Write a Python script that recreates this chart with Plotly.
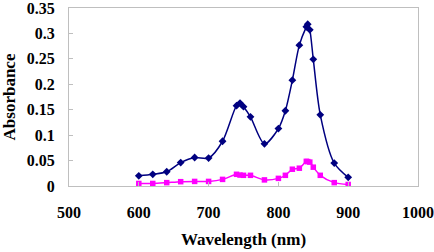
import plotly.graph_objects as go

# wavelength (nm) and absorbance readings
wavelength = [600, 620, 640, 660, 680, 700, 720, 740, 745, 750, 760, 780,
              800, 810, 820, 830, 840, 842, 845, 850, 860, 880, 900]
abs_blue = [0.020, 0.023, 0.028, 0.046, 0.056, 0.055, 0.088, 0.158, 0.163,
            0.156, 0.136, 0.083, 0.113, 0.148, 0.208, 0.277, 0.313, 0.318,
            0.307, 0.249, 0.140, 0.045, 0.017]
abs_pink = [0.005, 0.005, 0.0066, 0.0085, 0.009, 0.009, 0.013, 0.023, 0.0215,
            0.021, 0.021, 0.012, 0.015, 0.021, 0.033, 0.035, 0.0485, 0.048,
            0.047, 0.037, 0.021, 0.0066, 0.003]

x_ticks = [500, 600, 700, 800, 900, 1000]
y_ticks = [0, 0.05, 0.1, 0.15, 0.2, 0.25, 0.3, 0.35]

_FONT = "Times New Roman, Liberation Serif, DejaVu Serif, serif"
_AXIS = "#BFBFBF"

fig = go.Figure()
fig.add_trace(go.Scatter(
    x=wavelength, y=abs_blue,
    mode="lines+markers",
    line=dict(color="#000080", width=1.5, shape="spline", smoothing=0.8),
    marker=dict(symbol="diamond", size=6, color="#000080"),
))
fig.add_trace(go.Scatter(
    x=wavelength, y=abs_pink,
    mode="lines+markers",
    line=dict(color="#FF00FF", width=1.5, shape="spline", smoothing=0.8),
    marker=dict(symbol="square", size=5.5, color="#FF00FF"),
))

fig.update_layout(
    width=434, height=252,
    margin=dict(l=69, r=16, t=8, b=66),
    paper_bgcolor="#FFFFFF",
    plot_bgcolor="#FFFFFF",
    showlegend=False,
    font=dict(family=_FONT, color="#000000", size=16),
    xaxis=dict(
        range=[500, 1000],
        tickvals=x_ticks,
        ticktext=[str(v) for v in x_ticks],
        showgrid=False, zeroline=False,
        showline=True, linecolor=_AXIS, linewidth=1, mirror=True,
        ticks="inside", ticklen=4, tickcolor=_AXIS,
        ticklabelstandoff=12,
        ticklabeloverflow="allow",
        automargin=False,
        tickfont=dict(family=_FONT, size=16, weight="bold"),
        title=dict(text="<b>Wavelength (nm)</b>", standoff=12,
                   font=dict(family=_FONT, size=17)),
    ),
    yaxis=dict(
        range=[0, 0.35],
        tickvals=y_ticks,
        ticktext=["0", "0.05", "0.1", "0.15", "0.2", "0.25", "0.3", "0.35"],
        showgrid=False, zeroline=False,
        showline=True, linecolor=_AXIS, linewidth=1, mirror=True,
        ticks="inside", ticklen=4, tickcolor=_AXIS,
        ticklabelstandoff=10,
        ticklabeloverflow="allow",
        automargin=False,
        tickfont=dict(family=_FONT, size=16, weight="bold"),
        title=dict(text="<b>Absorbance</b>", standoff=6,
                   font=dict(family=_FONT, size=17)),
    ),
)

# drop the browser's default 8px body margin so the figure sits at the corner
fig.write_html(
    "out.html",
    config={"displayModeBar": False},
    post_script="document.body.style.margin='0';",
)
